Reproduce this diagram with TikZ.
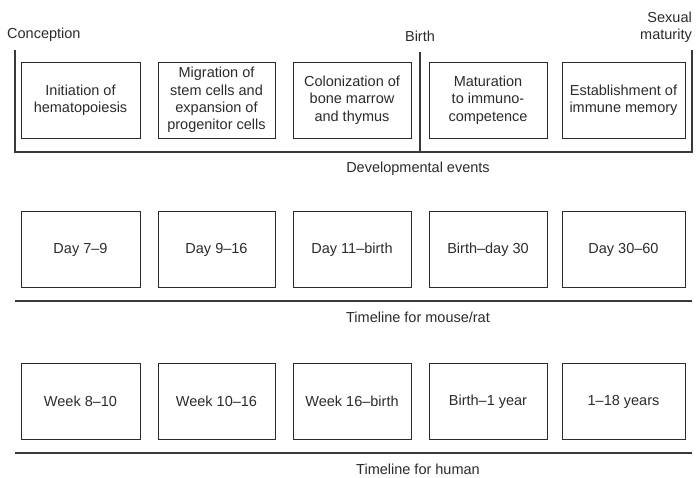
\documentclass[tikz,border=0pt]{standalone}
\usepackage{fontspec}
\setmainfont{Liberation Sans}
\definecolor{ink}{HTML}{2B2B2B}
\definecolor{rule}{HTML}{3A3A3A}
\tikzset{
  evbox/.style={draw=ink, line width=1pt, minimum width=119pt, minimum height=76pt,
    inner sep=0pt, align=center, text=ink, font=\fontsize{14.5}{17.4}\selectfont},
  lbl/.style={inner sep=0pt, text=ink, align=center, font=\fontsize{14.5}{17.4}\selectfont},
  tline/.style={draw=rule, line width=1.3pt}
}
\begin{document}
\begin{tikzpicture}[x=1pt,y=-1pt]
\useasboundingbox (0,0) rectangle (698,477);
% top labels
\node[lbl, anchor=west] (conc) at (7,35) {Conception};
\node[lbl] (birth) at (420,36) {Birth};
\node[lbl, anchor=east, align=right] (sex) at (692,27) {Sexual\\maturity};
% top frame
\coordinate (tl) at (15,50);
\coordinate (bl) at (15,152);
\coordinate (tb) at (420,52);
\coordinate (bb) at (420,152);
\coordinate (tr) at (692,50);
\coordinate (br) at (692,152);
\draw[tline] (tl) -- (bl) -- (br) -- (tr);
\draw[tline] (tb) -- (bb);
% developmental boxes
\node[evbox] (e1) at (80.5,100) {Initiation of\\hematopoiesis};
\node[evbox, minimum width=117pt] (e2) at (216.5,100) {Migration of\\stem cells and\\expansion of\\progenitor cells};
\node[evbox, minimum width=118pt] (e3) at (352,100) {Colonization of\\bone marrow\\and thymus};
\node[evbox, minimum width=118pt] (e4) at (488,100) {Maturation\\to immuno-\\competence};
\node[evbox, minimum width=123pt] (e5) at (623.5,100) {Establishment of\\immune memory};
\node[lbl] (dev) at (418,169) {Developmental events};
% mouse/rat timeline
\node[evbox] (m1) at (80.5,249.5) {Day 7--9};
\node[evbox, minimum width=117pt] (m2) at (216.5,249.5) {Day 9--16};
\node[evbox, minimum width=118pt] (m3) at (352,249.5) {Day 11--birth};
\node[evbox, minimum width=118pt] (m4) at (488,249.5) {Birth--day 30};
\node[evbox, minimum width=123pt] (m5) at (623.5,249.5) {Day 30--60};
\coordinate (ml) at (15,301);
\coordinate (mr) at (692,301);
\draw[tline] (ml) -- (mr);
\node[lbl] (mt) at (418,317) {Timeline for mouse/rat};
% human timeline
\node[evbox] (h1) at (80.5,401.5) {Week 8--10};
\node[evbox, minimum width=117pt] (h2) at (216.5,401.5) {Week 10--16};
\node[evbox, minimum width=118pt] (h3) at (352,401.5) {Week 16--birth};
\node[evbox, minimum width=118pt] (h4) at (488,401.5) {Birth--1 year};
\node[evbox, minimum width=123pt] (h5) at (623.5,401.5) {1--18 years};
\coordinate (hl) at (15,453);
\coordinate (hr) at (692,453);
\draw[tline] (hl) -- (hr);
\node[lbl] (ht) at (418,469) {Timeline for human};
\end{tikzpicture}
\end{document}
